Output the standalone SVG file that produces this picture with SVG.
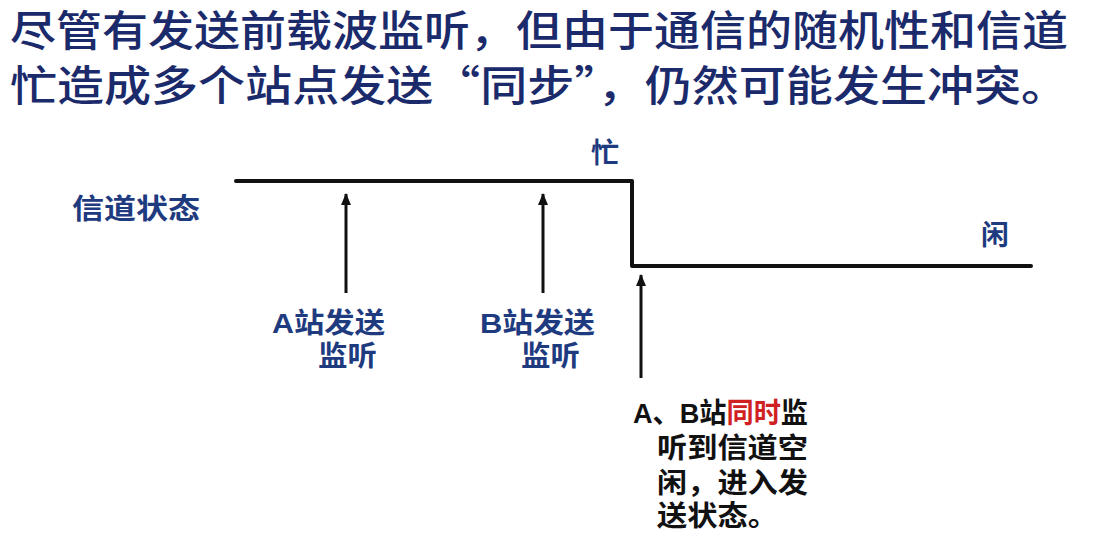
<svg xmlns="http://www.w3.org/2000/svg" width="1099" height="541" viewBox="0 0 1099 541">
  <style>
    .title { font-family: "Noto Sans CJK SC", "Liberation Sans", sans-serif; font-size: 42px; font-weight: 500; fill: #1b2a6b; }
    .lbl { font-family: "Liberation Sans", "Noto Sans CJK SC", sans-serif; font-size: 28px; font-weight: bold; fill: #1f3b80; }
    .note { font-family: "Liberation Sans", "Noto Sans CJK SC", sans-serif; font-size: 28px; font-weight: bold; fill: #111111; }
    .red { fill: #d0201f; }
    .sig { fill: none; stroke: #111111; stroke-width: 4; stroke-linejoin: round; stroke-linecap: round; }
    .arr { fill: none; stroke: #111111; stroke-width: 3; }
  </style>
  <defs>
    <marker id="ah" viewBox="0 0 12 10" refX="11" refY="5" markerWidth="12" markerHeight="10" markerUnits="userSpaceOnUse" orient="auto">
      <path d="M0,0 L12,5 L0,10 Z" fill="#111111"/>
    </marker>
  </defs>

  <g id="title">
    <text class="title" x="10" y="46" textLength="1058" lengthAdjust="spacingAndGlyphs">尽管有发送前载波监听，但由于通信的随机性和信道</text>
    <text class="title" x="10" y="101" textLength="1058" lengthAdjust="spacingAndGlyphs">忙造成多个站点发送“同步”，仍然可能发生冲突。</text>
  </g>

  <g id="channel-label">
    <text class="lbl" x="72" y="219" textLength="128" lengthAdjust="spacingAndGlyphs">信道状态</text>
  </g>
  <g id="busy-label">
    <text class="lbl" x="591" y="163">忙</text>
  </g>
  <g id="idle-label">
    <text class="lbl" x="981" y="245">闲</text>
  </g>

  <g id="connectors">
    <path id="signal" class="sig" d="M236,181 L632,181 L632,266 L1031,266"/>
    <line class="arr" x1="346" y1="293" x2="346" y2="194" marker-end="url(#ah)"/>
    <line class="arr" x1="543" y1="293" x2="543" y2="194" marker-end="url(#ah)"/>
    <line class="arr" x1="641" y1="378" x2="641" y2="275" marker-end="url(#ah)"/>
  </g>

  <g id="station-a">
    <text class="lbl" x="272" y="333" textLength="113" lengthAdjust="spacingAndGlyphs">A站发送</text>
    <text class="lbl" x="318" y="366" textLength="59" lengthAdjust="spacingAndGlyphs">监听</text>
  </g>
  <g id="station-b">
    <text class="lbl" x="480" y="333" textLength="115" lengthAdjust="spacingAndGlyphs">B站发送</text>
    <text class="lbl" x="521" y="366" textLength="59" lengthAdjust="spacingAndGlyphs">监听</text>
  </g>

  <g id="both-stations">
    <text class="note" x="633" y="423" textLength="175" lengthAdjust="spacingAndGlyphs">A、B站<tspan class="red">同时</tspan>监</text>
    <text class="note" x="657" y="458" textLength="151" lengthAdjust="spacingAndGlyphs">听到信道空</text>
    <text class="note" x="657" y="493" textLength="151" lengthAdjust="spacingAndGlyphs">闲，进入发</text>
    <text class="note" x="657" y="526" textLength="121" lengthAdjust="spacingAndGlyphs">送状态。</text>
  </g>
</svg>
